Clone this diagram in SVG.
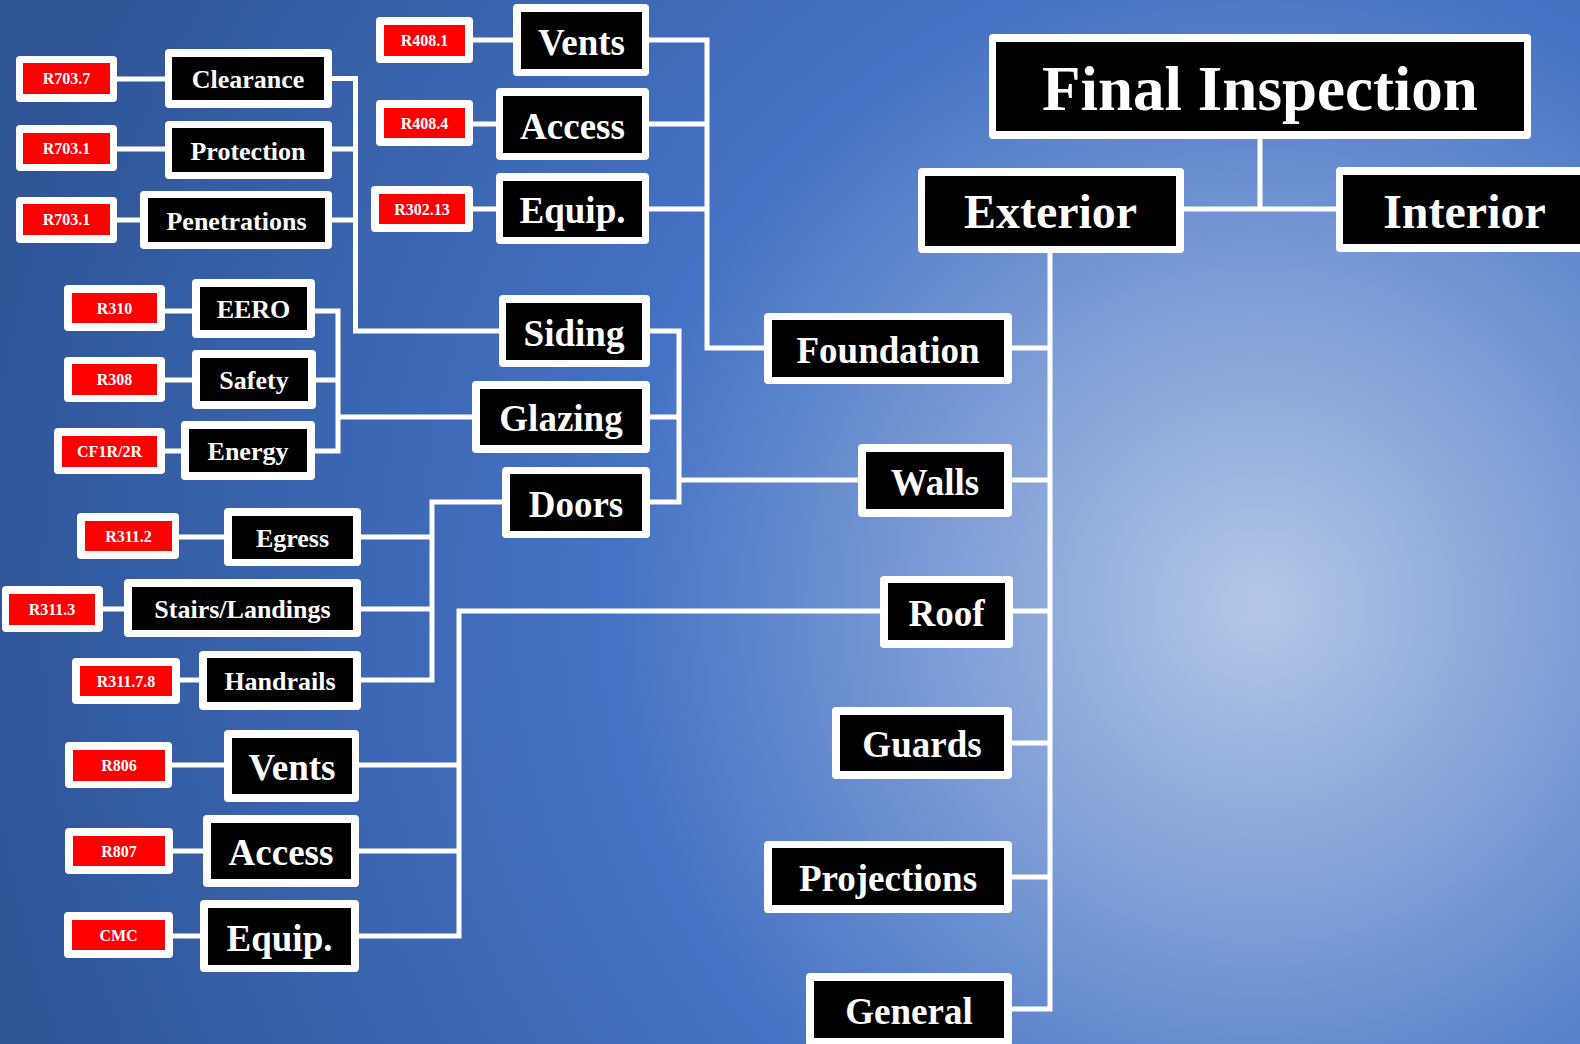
<svg xmlns="http://www.w3.org/2000/svg" width="1580" height="1044" viewBox="0 0 1580 1044">
<defs>
<radialGradient id="bg" gradientUnits="userSpaceOnUse" cx="1260" cy="605" r="1300">
<stop offset="0" stop-color="#B4C7E7"/>
<stop offset="0.5" stop-color="#4472C4"/>
<stop offset="1" stop-color="#2F5597"/>
</radialGradient>
<style>
.frame{fill:#ffffff}
.box{fill:#000000}
.code{fill:#ff0000}
.t{font-family:"Liberation Serif","Times New Roman",serif;font-weight:bold;fill:#ffffff;text-anchor:middle}
.lg{font-size:37px}
.md{font-size:26px}
.sm{font-size:16px}
.conn{stroke:#ffffff;stroke-width:5;fill:none;stroke-linejoin:miter;stroke-linecap:butt}
</style>
</defs>
<rect x="0" y="0" width="1580" height="1044" fill="url(#bg)"/>

<g id="connectors" class="conn">
<path d="M117 79H165M117 149H165M117 220H140"/>
<path d="M332 78.5H355.5V331H499M332 149H355.5M332 220H355.5"/>
<path d="M473 40H513M473 124H496M473 209H496"/>
<path d="M649 40H707V348H764M649 124H707M649 209H707"/>
<path d="M650 331H679V502H650M650 417H679M679 480H858"/>
<path d="M165 311H192M165 380H192M165 451H181"/>
<path d="M315 311H338V451H315M316 380H338M338 417H472"/>
<path d="M179 537H224M103 609H124M180 680H199"/>
<path d="M361 537H432M361 609H432M361 680H432V502H502"/>
<path d="M172 765H224M173 851H203M173 936H200"/>
<path d="M359 765H459M359 851H459M359 936H459V611H880"/>
<path d="M1050 253V1009H1012M1012 348H1050M1012 480H1050M1012 611H1050M1012 743H1050M1012 877H1050"/>
<path d="M1260 139V209M1184 209H1336"/>
</g>

<g id="final-inspection"><rect class="frame" x="989" y="34" width="542" height="105" rx="4"/><rect class="box" x="996" y="42" width="528" height="89"/><text class="t" x="1260" y="110" font-size="63">Final Inspection</text></g>
<g id="exterior"><rect class="frame" x="918" y="168" width="266" height="85" rx="4"/><rect class="box" x="925" y="176" width="251" height="70"/><text class="t" x="1050.5" y="228" font-size="48">Exterior</text></g>
<g id="interior"><rect class="frame" x="1336" y="167" width="258" height="85" rx="4"/><rect class="box" x="1343" y="175" width="243" height="69"/><text class="t" x="1464.5" y="228" font-size="48">Interior</text></g>

<g id="foundation"><rect class="frame" x="764" y="313" width="248" height="71" rx="4"/><rect class="box" x="772" y="320" width="232" height="57"/><text class="t lg" x="888" y="363">Foundation</text></g>
<g id="walls"><rect class="frame" x="858" y="444" width="154" height="73" rx="4"/><rect class="box" x="866" y="452" width="138" height="57"/><text class="t lg" x="935" y="495">Walls</text></g>
<g id="roof"><rect class="frame" x="880" y="576" width="133" height="72" rx="4"/><rect class="box" x="888" y="583" width="117" height="57"/><text class="t lg" x="946.5" y="626">Roof</text></g>
<g id="guards"><rect class="frame" x="832" y="707" width="180" height="72" rx="4"/><rect class="box" x="840" y="715" width="164" height="56"/><text class="t lg" x="922" y="757">Guards</text></g>
<g id="projections"><rect class="frame" x="764" y="841" width="248" height="72" rx="4"/><rect class="box" x="772" y="848" width="232" height="57"/><text class="t lg" x="888" y="891">Projections</text></g>
<g id="general"><rect class="frame" x="806" y="973" width="206" height="73" rx="4"/><rect class="box" x="814" y="981" width="190" height="57"/><text class="t lg" x="909" y="1024">General</text></g>

<g id="vents-foundation"><rect class="frame" x="513" y="4" width="136" height="72" rx="4"/><rect class="box" x="521" y="12" width="121" height="57"/><text class="t lg" x="581.5" y="55">Vents</text></g>
<g id="access-foundation"><rect class="frame" x="496" y="88" width="153" height="72" rx="4"/><rect class="box" x="503" y="96" width="139" height="57"/><text class="t lg" x="572.5" y="139">Access</text></g>
<g id="equip-foundation"><rect class="frame" x="496" y="173" width="153" height="71" rx="4"/><rect class="box" x="503" y="181" width="139" height="56"/><text class="t lg" x="572.5" y="223">Equip.</text></g>
<g id="code-r408-1"><rect class="frame" x="376" y="17" width="97" height="46" rx="4"/><rect class="code" x="384" y="25" width="81" height="31"/><text class="t sm" x="424.5" y="46">R408.1</text></g>
<g id="code-r408-4"><rect class="frame" x="376" y="100" width="97" height="46" rx="4"/><rect class="code" x="384" y="108" width="81" height="30"/><text class="t sm" x="424.5" y="128.5">R408.4</text></g>
<g id="code-r302-13"><rect class="frame" x="371" y="186" width="102" height="46" rx="4"/><rect class="code" x="379" y="194" width="86" height="30"/><text class="t sm" x="422" y="214.5">R302.13</text></g>

<g id="siding"><rect class="frame" x="499" y="295" width="151" height="72" rx="4"/><rect class="box" x="506" y="303" width="136" height="57"/><text class="t lg" x="574" y="346">Siding</text></g>
<g id="glazing"><rect class="frame" x="472" y="381" width="178" height="72" rx="4"/><rect class="box" x="480" y="389" width="162" height="56"/><text class="t lg" x="561" y="431">Glazing</text></g>
<g id="doors"><rect class="frame" x="502" y="467" width="148" height="71" rx="4"/><rect class="box" x="510" y="474" width="132" height="57"/><text class="t lg" x="576" y="517">Doors</text></g>

<g id="clearance"><rect class="frame" x="165" y="49" width="167" height="59" rx="4"/><rect class="box" x="172" y="57" width="152" height="43"/><text class="t md" x="248" y="88">Clearance</text></g>
<g id="protection"><rect class="frame" x="165" y="121" width="167" height="58" rx="4"/><rect class="box" x="172" y="128" width="152" height="44"/><text class="t md" x="248" y="160">Protection</text></g>
<g id="penetrations"><rect class="frame" x="140" y="191" width="192" height="58" rx="4"/><rect class="box" x="148" y="198" width="177" height="44"/><text class="t md" x="236.5" y="230">Penetrations</text></g>
<g id="code-r703-7"><rect class="frame" x="16" y="56" width="101" height="46" rx="4"/><rect class="code" x="23" y="63" width="87" height="31"/><text class="t sm" x="66.5" y="84">R703.7</text></g>
<g id="code-r703-1a"><rect class="frame" x="16" y="125" width="101" height="46" rx="4"/><rect class="code" x="23" y="133" width="87" height="31"/><text class="t sm" x="66.5" y="154">R703.1</text></g>
<g id="code-r703-1b"><rect class="frame" x="16" y="197" width="101" height="46" rx="4"/><rect class="code" x="23" y="204" width="87" height="31"/><text class="t sm" x="66.5" y="225">R703.1</text></g>

<g id="eero"><rect class="frame" x="192" y="279" width="123" height="59" rx="4"/><rect class="box" x="200" y="287" width="107" height="43"/><text class="t md" x="253.5" y="318">EERO</text></g>
<g id="safety"><rect class="frame" x="192" y="350" width="124" height="59" rx="4"/><rect class="box" x="200" y="358" width="108" height="43"/><text class="t md" x="254" y="389">Safety</text></g>
<g id="energy"><rect class="frame" x="181" y="421" width="134" height="59" rx="4"/><rect class="box" x="189" y="429" width="118" height="43"/><text class="t md" x="248" y="460">Energy</text></g>
<g id="code-r310"><rect class="frame" x="64" y="285" width="101" height="46" rx="4"/><rect class="code" x="72" y="293" width="85" height="30"/><text class="t sm" x="114.5" y="313.5">R310</text></g>
<g id="code-r308"><rect class="frame" x="64" y="357" width="101" height="45" rx="4"/><rect class="code" x="72" y="364" width="85" height="31"/><text class="t sm" x="114.5" y="385">R308</text></g>
<g id="code-cf1r"><rect class="frame" x="54" y="428" width="111" height="46" rx="4"/><rect class="code" x="62" y="436" width="95" height="31"/><text class="t sm" x="109.5" y="457">CF1R/2R</text></g>

<g id="egress"><rect class="frame" x="224" y="508" width="137" height="58" rx="4"/><rect class="box" x="232" y="516" width="121" height="43"/><text class="t md" x="292.5" y="547">Egress</text></g>
<g id="stairs-landings"><rect class="frame" x="124" y="579" width="237" height="58" rx="4"/><rect class="box" x="132" y="587" width="221" height="43"/><text class="t md" x="242.5" y="618">Stairs/Landings</text></g>
<g id="handrails"><rect class="frame" x="199" y="651" width="162" height="59" rx="4"/><rect class="box" x="207" y="658" width="146" height="44"/><text class="t md" x="280" y="690">Handrails</text></g>
<g id="code-r311-2"><rect class="frame" x="77" y="513" width="102" height="46" rx="4"/><rect class="code" x="85" y="521" width="87" height="30"/><text class="t sm" x="128.5" y="541.5">R311.2</text></g>
<g id="code-r311-3"><rect class="frame" x="2" y="586" width="101" height="46" rx="4"/><rect class="code" x="9" y="594" width="86" height="31"/><text class="t sm" x="52" y="615">R311.3</text></g>
<g id="code-r311-7-8"><rect class="frame" x="72" y="658" width="108" height="46" rx="4"/><rect class="code" x="80" y="666" width="92" height="30"/><text class="t sm" x="126" y="686.5">R311.7.8</text></g>

<g id="vents-roof"><rect class="frame" x="224" y="730" width="135" height="72" rx="4"/><rect class="box" x="232" y="738" width="120" height="56"/><text class="t lg" x="292" y="780">Vents</text></g>
<g id="access-roof"><rect class="frame" x="203" y="815" width="156" height="72" rx="4"/><rect class="box" x="211" y="823" width="140" height="56"/><text class="t lg" x="281" y="865">Access</text></g>
<g id="equip-roof"><rect class="frame" x="200" y="900" width="159" height="72" rx="4"/><rect class="box" x="208" y="908" width="143" height="57"/><text class="t lg" x="279.5" y="951">Equip.</text></g>
<g id="code-r806"><rect class="frame" x="65" y="742" width="107" height="46" rx="4"/><rect class="code" x="73" y="750" width="92" height="31"/><text class="t sm" x="119" y="771">R806</text></g>
<g id="code-r807"><rect class="frame" x="65" y="828" width="108" height="46" rx="4"/><rect class="code" x="73" y="836" width="92" height="30"/><text class="t sm" x="119" y="856.5">R807</text></g>
<g id="code-cmc"><rect class="frame" x="64" y="912" width="109" height="46" rx="4"/><rect class="code" x="72" y="920" width="93" height="30"/><text class="t sm" x="118.5" y="940.5">CMC</text></g>
</svg>
